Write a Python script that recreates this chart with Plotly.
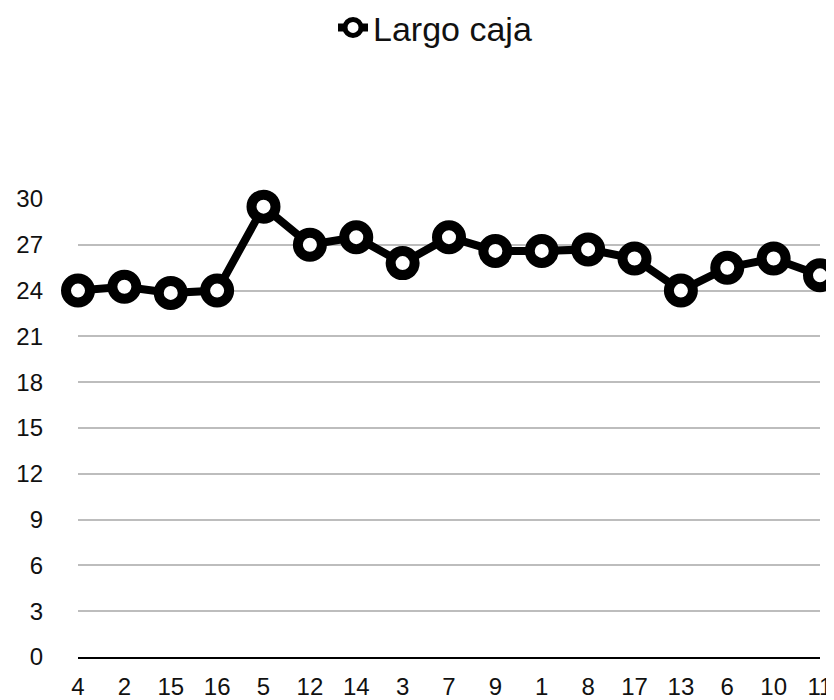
import plotly.graph_objects as go

categories = ["4", "2", "15", "16", "5", "12", "14", "3", "7", "9", "1", "8", "17", "13", "6", "10", "11"]
largo_caja = [24.0, 24.25, 23.85, 24.0, 29.5, 27.0, 27.5, 25.8, 27.5, 26.6, 26.6, 26.7, 26.1, 24.0, 25.5, 26.1, 25.0]
y_ticks = [0, 3, 6, 9, 12, 15, 18, 21, 24, 27, 30]

FONT = "Liberation Sans, Arial, Helvetica, sans-serif"

fig = go.Figure()
fig.add_trace(go.Scatter(
    x=categories, y=largo_caja, name="Largo caja", mode="lines+markers",
    line=dict(color="black", width=8),
    marker=dict(symbol="circle", size=24, color="white", line=dict(color="black", width=10)),
    cliponaxis=False,
))

fig.update_layout(
    width=834, height=700,
    margin=dict(l=70, r=22, t=191, b=51, pad=0, autoexpand=False),
    paper_bgcolor="white", plot_bgcolor="white",
    font=dict(family=FONT, color="#111111", size=24),
    showlegend=True,
    legend=dict(orientation="h", xref="container", x=0.512, xanchor="center",
                yref="paper", y=1.437, yanchor="top",
                font=dict(size=34, family=FONT, color="#111111")),
    xaxis=dict(type="category", range=[0, 16], showgrid=False, showline=True, linecolor="black",
               linewidth=2, ticks="", tickfont=dict(size=24), zeroline=False,
               ticklabelstandoff=7, automargin=False),
    yaxis=dict(range=[0, 30], tickvals=y_ticks, showgrid=True, gridcolor="#bdbdbd", gridwidth=2,
               zeroline=False, showline=False, ticks="", tickfont=dict(size=24),
               ticklabelstandoff=34, automargin=False),
)

fig.write_html("out.html")
